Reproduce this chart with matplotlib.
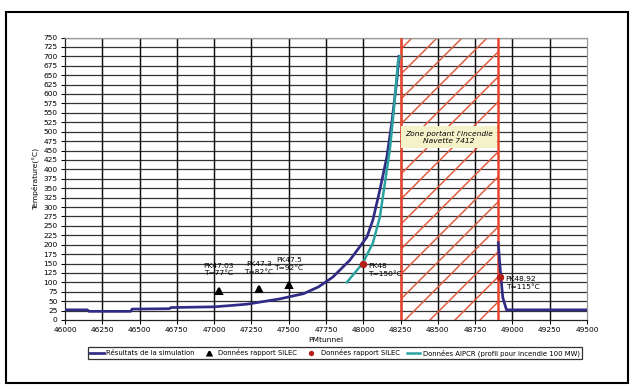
import matplotlib
matplotlib.use("Agg")
import matplotlib.pyplot as plt
from matplotlib.patches import Rectangle
import numpy as np

# ---- data ----
sim_x = [46000, 46150, 46160, 46440, 46450, 46700, 46710, 46850, 47000, 47130, 47220,
         47440, 47600, 47700, 47796, 47910, 48024, 48064, 48111, 48158, 48191, 48225, 48240]
sim_y = [27, 27, 23, 23, 29, 30, 33, 34, 35, 39, 42,
         56, 70, 88, 114, 159, 220, 265, 345, 433, 523, 637, 700]
sim2_x = [48905, 48915, 48935, 48960, 49500]
sim2_y = [205, 150, 60, 27, 27]
aipcr_x = [47890, 47997, 48064, 48111, 48145, 48178, 48205, 48232, 48245]
aipcr_y = [100, 151, 204, 273, 364, 452, 558, 683, 700]
silec_tri_x = [47030, 47300, 47500]
silec_tri_y = [77, 82, 92]
silec_tri_lab = ["PK47.03\nT=77°C", "PK47.3\nT=82°C", "PK47.5\nT=92°C"]
silec_dot_x = [48000, 48920]
silec_dot_y = [150, 115]
silec_dot_lab = ["PK48\nT=150°C", "PK48.92\nT=115°C"]
zone = [48250, 48900]
xticks = list(range(46000, 49501, 250))
yticks = list(range(0, 751, 25))

DPI = 150
plt.rcParams['hatch.linewidth'] = 0.7
fig = plt.figure(figsize=(634 / DPI, 390 / DPI), dpi=DPI)
ax = fig.add_axes([65 / 634, 1 - 320 / 390, (587 - 65) / 634, (320 - 37.5) / 390])

fs = 3.6
ax.set_xlim(46000, 49500)
ax.set_ylim(0, 750)
ax.set_xticks(xticks)
ax.set_yticks(yticks)
ax.tick_params(axis='both', labelsize=fs, length=2, width=0.5, pad=1.5)
for yv in yticks[1:]:
    ax.axhline(yv, color='#333333', lw=0.6, zorder=1)
for xv in xticks[1:-1]:
    ax.axvline(xv, color='#111111', lw=0.7, zorder=1)
for s in ['top', 'right']:
    ax.spines[s].set_color('#999999')
    ax.spines[s].set_linewidth(0.6)
for s in ['left', 'bottom']:
    ax.spines[s].set_color('#222222')
    ax.spines[s].set_linewidth(0.6)

# fire zone
ax.add_patch(Rectangle((zone[0], 0), zone[1] - zone[0], 750, facecolor='none',
                       edgecolor='#e2553a', linewidth=0, hatch='//', zorder=2))
for zx in zone:
    ax.axvline(zx, color='#e8452c', lw=1.2, zorder=3)
ax.text((zone[0] + zone[1]) / 2, 485, "Zone portant l'incendie\nNavette 7412",
        ha='center', va='center', fontsize=fs, style='italic', zorder=6,
        bbox=dict(boxstyle='square,pad=0.6', facecolor='#f5f2c9', edgecolor='none'))

navy = '#302c85'
teal = '#2aa3a0'
l1, = ax.plot(sim_x, sim_y, color=navy, lw=1.3, zorder=4, label='Résultats de la simulation')
ax.plot(sim2_x, sim2_y, color=navy, lw=1.3, zorder=4)
l4, = ax.plot(aipcr_x, aipcr_y, color=teal, lw=1.2, zorder=4,
              label='Données AIPCR (profil pour incendie 100 MW)')
l2, = ax.plot(silec_tri_x, silec_tri_y, ls='none', marker='^', color='black', ms=3.2,
              zorder=5, label='Données rapport SILEC')
l3, = ax.plot(silec_dot_x, silec_dot_y, ls='none', marker='o', color='#b3201a', ms=2.6,
              zorder=5, label='Données rapport SILEC')

for x, y, t in zip(silec_tri_x, silec_tri_y, silec_tri_lab):
    ax.annotate(t, (x, y), xytext=(0, 7), textcoords='offset points', ha='center',
                va='bottom', fontsize=fs, linespacing=1.3, zorder=6)
for x, y, t in zip(silec_dot_x, silec_dot_y, silec_dot_lab):
    ax.annotate(t, (x, y), xytext=(2.5, -3), textcoords='offset points', ha='left',
                va='center', fontsize=fs, linespacing=1.3, zorder=6)

ax.set_xlabel('PMtunnel', fontsize=fs, labelpad=2)
ax.set_ylabel('Température(°C)', fontsize=fs, labelpad=2)

leg = fig.legend(handles=[l1, l2, l3, l4], loc='center', ncol=4,
                 bbox_to_anchor=(335 / 634, 1 - 353 / 390), fontsize=3.3,
                 frameon=True, fancybox=False, edgecolor='black', borderpad=0.3,
                 handlelength=2.0, handletextpad=0.4, columnspacing=1.0,
                 markerscale=0.6)
leg.get_frame().set_linewidth(0.6)

fig.patches.append(Rectangle((6 / 634, 1 - 383 / 390), 622 / 634, 371 / 390,
                             transform=fig.transFigure, fill=False, edgecolor='black',
                             lw=1.0))
fig.savefig('out.png', dpi=DPI)
